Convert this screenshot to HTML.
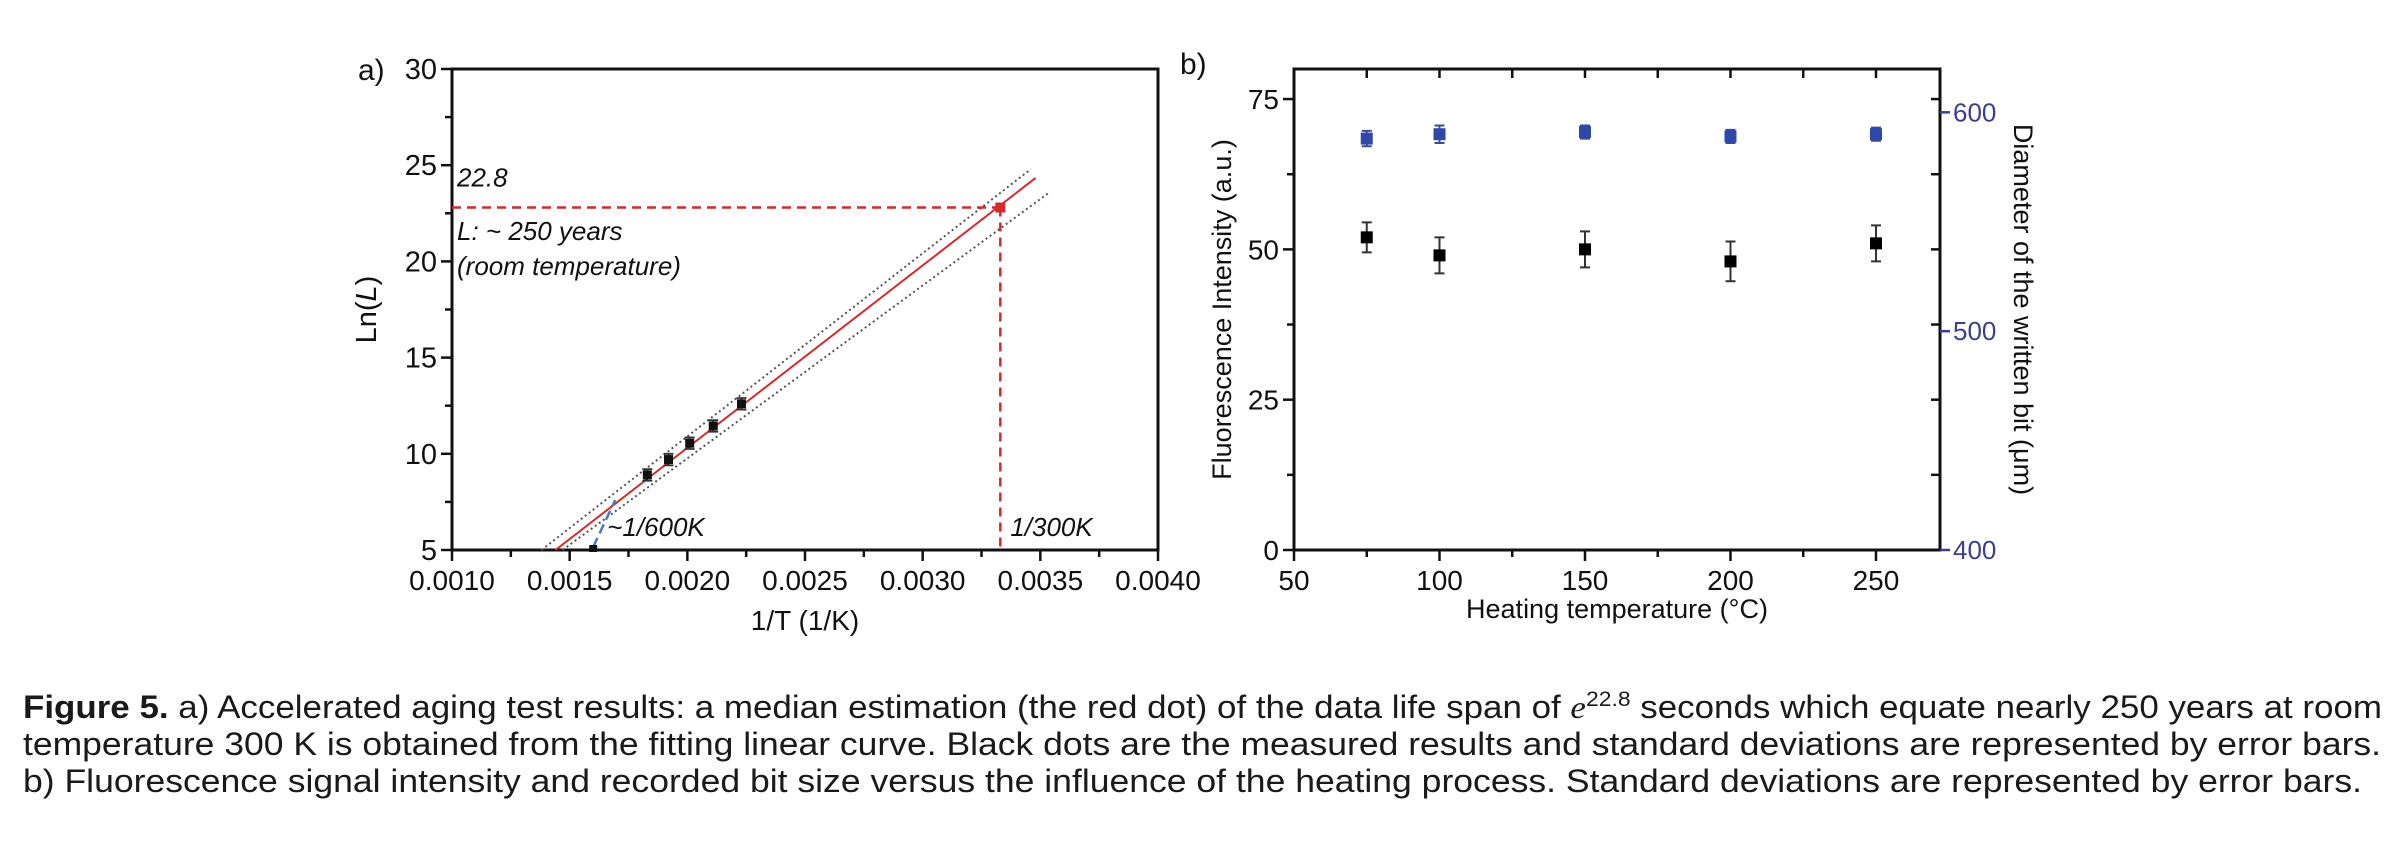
<!DOCTYPE html>
<html><head><meta charset="utf-8"><style>
html,body{margin:0;padding:0;background:#fff;}
svg{display:block;font-family:"Liberation Sans",Arial,sans-serif;}
</style></head><body>
<svg id="fig" width="2406" height="860" viewBox="0 0 2406 860" xmlns="http://www.w3.org/2000/svg">
<g id="pa"></g>
<g id="pb"></g>
<g font-size="32" fill="#1a1a1a">
<text x="23" y="718" textLength="2359" lengthAdjust="spacingAndGlyphs"><tspan font-weight="bold">Figure 5.</tspan>  a) Accelerated aging test results: a median estimation (the red dot) of the data life span of <tspan font-style="italic" font-family="Liberation Serif">e</tspan><tspan font-size="21" dy="-12">22.8</tspan><tspan dy="12"> seconds which equate nearly 250 years at room</tspan></text>
<text x="23" y="755" textLength="2358" lengthAdjust="spacingAndGlyphs">temperature 300 K is obtained from the fitting linear curve. Black dots are the measured results and standard deviations are represented by error bars.</text>
<text x="23" y="792" textLength="2339" lengthAdjust="spacingAndGlyphs">b) Fluorescence signal intensity and recorded bit size versus the influence of the heating process. Standard deviations are represented by error bars.</text>
</g>
</svg>
<script>
const NS="http://www.w3.org/2000/svg";
// ---------- Panel a data ----------
const aXTicks=[0.0010,0.0015,0.0020,0.0025,0.0030,0.0035,0.0040];
const aXTickLabels=["0.0010","0.0015","0.0020","0.0025","0.0030","0.0035","0.0040"];
const aYTicks=[5,10,15,20,25,30];
const aPointsX=[0.00183,0.00192,0.00201,0.00211,0.00223];
const aPointsY=[8.9,9.7,10.55,11.45,12.6];
const aPointsErr=[0.3,0.3,0.3,0.3,0.3];
const aFitX=[0.00144,0.00348];
const aFitY=[5,24.34];
const aUpperX=[0.00138,0.00346];
const aUpperY=[5,24.8];
const aLowerX=[0.00147,0.00354];
const aLowerY=[5,23.6];
const aRoomX=[0.00333];
const aRoomY=[22.8];
const aHighX=[0.00160];
// ---------- Panel b data ----------
const bXTicks=[50,100,150,200,250];
const bYTicks=[0,25,50,75];
const bY2Ticks=[400,500,600];
const bTemps=[75,100,150,200,250];
const bIntensity=[52,49,50,48,51];
const bIntensityErr=[2.5,3,3,3.3,3];
const bDiameter=[588,590,591,589,590];
const bDiameterErr=[3.5,4,3,3,3];

function mk(parent,tag,attrs,text){const e=document.createElementNS(NS,tag);for(const k in attrs)e.setAttribute(k,attrs[k]);if(text!==undefined)e.textContent=text;parent.appendChild(e);return e;}

// ---------- Panel a ----------
(function(){
const g=document.getElementById('pa');
const L=452,R=1158,T=69,B=550;
const x=v=>L+(v-0.0010)/0.003*(R-L);
const y=v=>B-(v-5)/25*(B-T);
let e;
e=mk(g,'rect',{x:L,y:T,width:R-L,height:B-T,fill:'none',stroke:'#111','stroke-width':3});

for(let v=0.0010;v<=0.00401;v+=0.00025){const maj=Math.abs((v*10000)%5)<0.01||Math.abs((v*10000)%5-5)<0.01;
 e=mk(g,'line',{x1:x(v),x2:x(v),y1:B,y2:B+(maj?11:7),stroke:'#111','stroke-width':2.5});
 }
aXTicks.forEach((v,i)=>{e=mk(g,'text',{x:x(v),y:B+40,'font-size':28,'text-anchor':'middle',fill:'#111'},aXTickLabels[i]);
 });
for(let v=5;v<=30;v+=2.5){const maj=v%5===0;
 e=mk(g,'line',{x1:L,x2:L-(maj?11:7),y1:y(v),y2:y(v),stroke:'#111','stroke-width':2.5});
 }
aYTicks.forEach(v=>{e=mk(g,'text',{x:L-15,y:y(v)+10,'font-size':29,'text-anchor':'end',fill:'#111'},String(v));
 });
e=mk(g,'text',{x:(L+R)/2,y:630,'font-size':28,'text-anchor':'middle',fill:'#111'},'1/T (1/K)');

e=mk(g,'text',{x:0,y:0,'font-size':29,'text-anchor':'middle',fill:'#111',transform:`translate(376,${(T+B)/2}) rotate(-90)`});

e.innerHTML='Ln(<tspan font-style="italic">L</tspan>)';
e=mk(g,'text',{x:358,y:80,'font-size':30,fill:'#111'},'a)');

e=mk(g,'line',{x1:x(aUpperX[0]),y1:y(aUpperY[0]),x2:x(aUpperX[1]),y2:y(aUpperY[1]),stroke:'#555','stroke-width':2,'stroke-dasharray':'2 3'});

e=mk(g,'line',{x1:x(aLowerX[0]),y1:y(aLowerY[0]),x2:x(aLowerX[1]),y2:y(aLowerY[1]),stroke:'#555','stroke-width':2,'stroke-dasharray':'2 3'});

e=mk(g,'line',{x1:x(aFitX[0]),y1:y(aFitY[0]),x2:x(aFitX[1]),y2:y(aFitY[1]),stroke:'#d42a2a','stroke-width':2});

e=mk(g,'line',{x1:L,y1:y(aRoomY[0]),x2:x(aRoomX[0]),y2:y(aRoomY[0]),stroke:'#d42a2a','stroke-width':2.5,'stroke-dasharray':'9 6'});

e=mk(g,'line',{x1:x(aRoomX[0]),y1:y(aRoomY[0]),x2:x(aRoomX[0]),y2:B,stroke:'#d42a2a','stroke-width':2.5,'stroke-dasharray':'9 6'});

e=mk(g,'line',{x1:x(aHighX[0]),y1:B-3,x2:x(aHighX[0])+22,y2:B-50,stroke:'#4a7bc0','stroke-width':2.5,'stroke-dasharray':'10 5'});

e=mk(g,'rect',{x:x(aHighX[0])-4,y:B-5,width:8,height:7,fill:'#111'});

aPointsX.forEach((v,i)=>{const cx=x(v),cy=y(aPointsY[i]),ey=aPointsErr[i]*(B-T)/25;
 e=mk(g,'path',{d:`M${cx},${cy-ey}V${cy+ey}M${cx-5},${cy-ey}H${cx+5}M${cx-5},${cy+ey}H${cx+5}`,stroke:'#333','stroke-width':1.8,fill:'none'});
 
 e=mk(g,'rect',{x:cx-4.5,y:cy-4.5,width:9,height:9,fill:'#111'});
 });
e=mk(g,'rect',{x:x(aRoomX[0])-5,y:y(aRoomY[0])-5,width:10,height:10,fill:'#d42a2a'});

const ann=[['22.8',L+5,y(23.9),'annotation-value'],['L: ~ 250 years',L+5,y(21.1),'annotation-lifespan'],['(room temperature)',L+5,y(19.3),'annotation-room-temp'],['~1/600K',x(aHighX[0])+14,B-14,'annotation-600k'],['1/300K',x(aRoomX[0])+10,B-14,'annotation-300k']];
ann.forEach(a=>{e=mk(g,'text',{x:a[1],y:a[2],'font-size':26,'font-style':'italic',fill:'#111'},a[0]);
 });
})();

// ---------- Panel b ----------
(function(){
const g=document.getElementById('pb');
const L=1294,R=1940,T=69,B=550;
const x=v=>L+(v-50)/222*(R-L);
const y=v=>B-v/80*(B-T);
const y2=v=>B-(v-400)/219.8*(B-T);
let e;
e=mk(g,'rect',{x:L,y:T,width:R-L,height:B-T,fill:'none',stroke:'#111','stroke-width':3});

for(let v=50;v<=272;v+=25){const maj=v%50===0;
 e=mk(g,'line',{x1:x(v),x2:x(v),y1:B,y2:B+(maj?11:7),stroke:'#111','stroke-width':2.5});
 
 e=mk(g,'line',{x1:x(v),x2:x(v),y1:T,y2:T+9,stroke:'#111','stroke-width':2.5});
 }
bXTicks.forEach(v=>{e=mk(g,'text',{x:x(v),y:B+40,'font-size':28,'text-anchor':'middle',fill:'#111'},String(v));
 });
for(let v=0;v<=75;v+=12.5){const maj=v%25===0;
 e=mk(g,'line',{x1:L,x2:L-(maj?11:7),y1:y(v),y2:y(v),stroke:'#111','stroke-width':2.5});
 
 e=mk(g,'line',{x1:R,x2:R-9,y1:y(v),y2:y(v),stroke:'#111','stroke-width':2.5});
 }
bYTicks.forEach(v=>{e=mk(g,'text',{x:L-15,y:y(v)+10,'font-size':28,'text-anchor':'end',fill:'#111'},String(v));
 });
bY2Ticks.forEach(v=>{e=mk(g,'line',{x1:R,x2:R+10,y1:y2(v),y2:y2(v),stroke:'#3a3f8f','stroke-width':2.5});
 
 e=mk(g,'text',{x:R+13,y:y2(v)+9,'font-size':26,fill:'#3a3f8f'},String(v));
 });
e=mk(g,'text',{x:(L+R)/2,y:618,'font-size':27,'text-anchor':'middle',fill:'#111'},'Heating temperature (°C)');

e=mk(g,'text',{x:0,y:0,'font-size':27,'text-anchor':'middle',fill:'#111',transform:`translate(1231,${(T+B)/2}) rotate(-90)`},'Fluorescence Intensity (a.u.)');

e=mk(g,'text',{x:0,y:0,'font-size':27,'text-anchor':'middle',fill:'#111',transform:`translate(2014,${(T+B)/2}) rotate(90)`},'Diameter of the written bit (μm)');

e=mk(g,'text',{x:1180,y:74,'font-size':30,fill:'#111'},'b)');

bTemps.forEach((t,i)=>{const cx=x(t);
 let cy=y(bIntensity[i]),ey=bIntensityErr[i]*(B-T)/80;
 e=mk(g,'path',{d:`M${cx},${cy-ey}V${cy+ey}M${cx-5},${cy-ey}H${cx+5}M${cx-5},${cy+ey}H${cx+5}`,stroke:'#333','stroke-width':2,fill:'none'});
 
 e=mk(g,'rect',{x:cx-6,y:cy-6,width:12,height:12,fill:'#000'});
 
 cy=y2(bDiameter[i]);ey=bDiameterErr[i]*(B-T)/219.8;
 e=mk(g,'path',{d:`M${cx},${cy-ey}V${cy+ey}M${cx-5},${cy-ey}H${cx+5}M${cx-5},${cy+ey}H${cx+5}`,stroke:'#3a4a9a','stroke-width':2,fill:'none'});
 
 e=mk(g,'rect',{x:cx-6,y:cy-6,width:12,height:12,fill:'#2f47a8'});
 });
})();
</script>
</body></html>
